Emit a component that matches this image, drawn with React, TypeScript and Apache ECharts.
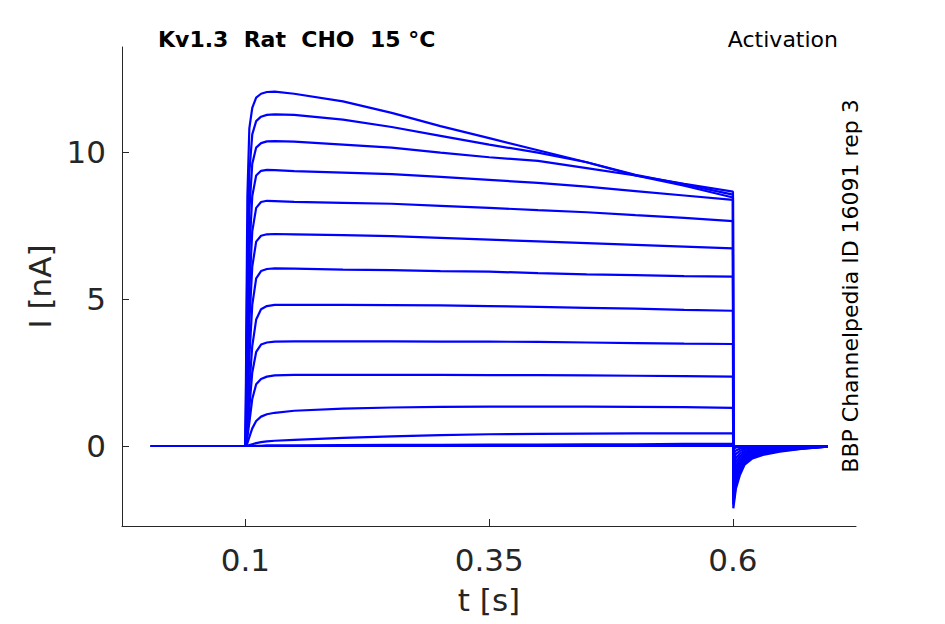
import React, { useEffect, useRef } from "react";
import * as echarts from "echarts";

// time points (s) shared by all sweeps
const T = [0.003, 0.1, 0.1008, 0.102, 0.104, 0.107, 0.111, 0.116, 0.122, 0.13, 0.15, 0.2, 0.25, 0.3, 0.35, 0.4, 0.45, 0.5, 0.55, 0.6, 0.6004, 0.603, 0.607, 0.612, 0.62, 0.632, 0.648, 0.67, 0.697];

// current (nA) for each sweep
const sweep1 = [0, 0, 3.5, 8.5, 10.8, 11.5, 11.85, 11.98, 12.04, 12.05, 11.98, 11.72, 11.33, 10.88, 10.47, 10.06, 9.65, 9.2, 8.85, 8.45, -2.12, -1.45, -1.0, -0.63, -0.42, -0.29, -0.19, -0.1, -0.02];
const sweep2 = [0, 0, 2.5, 6.5, 9.3, 10.6, 11.05, 11.2, 11.26, 11.28, 11.26, 11.1, 10.85, 10.55, 10.25, 9.98, 9.65, 9.22, 8.9, 8.55, -1.98, -1.33, -0.9, -0.57, -0.38, -0.26, -0.17, -0.09, -0.02];
const sweep3 = [0, 0, 1.8, 5.0, 8.0, 9.6, 10.15, 10.3, 10.36, 10.37, 10.35, 10.25, 10.15, 9.98, 9.82, 9.7, 9.45, 9.2, 8.92, 8.65, -1.85, -1.22, -0.82, -0.52, -0.34, -0.23, -0.15, -0.08, -0.02];
const sweep4 = [0, 0, 1.2, 3.8, 6.6, 8.5, 9.2, 9.36, 9.39, 9.38, 9.35, 9.3, 9.25, 9.15, 9.05, 8.95, 8.82, 8.67, 8.52, 8.37, -1.7, -1.1, -0.74, -0.46, -0.3, -0.21, -0.13, -0.07, -0.01];
const sweep5 = [0, 0, 0.8, 2.8, 5.3, 7.3, 8.1, 8.3, 8.34, 8.33, 8.3, 8.27, 8.24, 8.17, 8.1, 8.02, 7.95, 7.85, 7.76, 7.65, -1.52, -0.97, -0.64, -0.4, -0.26, -0.18, -0.11, -0.06, -0.01];
const sweep6 = [0, 0, 0.5, 2.0, 4.2, 6.1, 6.95, 7.15, 7.2, 7.21, 7.2, 7.17, 7.14, 7.08, 7.02, 6.96, 6.9, 6.84, 6.78, 6.72, -1.33, -0.83, -0.54, -0.34, -0.22, -0.15, -0.1, -0.05, -0.01];
const sweep7 = [0, 0, 0.3, 1.3, 3.0, 4.8, 5.7, 5.95, 6.02, 6.04, 6.03, 6.0, 5.98, 5.95, 5.93, 5.88, 5.84, 5.81, 5.78, 5.76, -1.13, -0.69, -0.45, -0.28, -0.18, -0.12, -0.08, -0.04, -0.01];
const sweep8 = [0, 0, 0.2, 0.8, 2.0, 3.4, 4.3, 4.65, 4.76, 4.8, 4.8, 4.8, 4.79, 4.78, 4.76, 4.73, 4.7, 4.67, 4.63, 4.6, -0.92, -0.55, -0.35, -0.22, -0.14, -0.1, -0.06, -0.03, -0.01];
const sweep9 = [0, 0, 0.1, 0.5, 1.3, 2.5, 3.2, 3.45, 3.52, 3.55, 3.56, 3.56, 3.56, 3.55, 3.55, 3.54, 3.52, 3.5, 3.48, 3.47, -0.7, -0.41, -0.26, -0.16, -0.1, -0.07, -0.05, -0.02, 0];
const sweep10 = [0, 0, 0.05, 0.3, 0.8, 1.6, 2.1, 2.28, 2.36, 2.4, 2.42, 2.42, 2.42, 2.42, 2.41, 2.41, 2.4, 2.39, 2.38, 2.36, -0.48, -0.27, -0.17, -0.1, -0.07, -0.05, -0.03, -0.02, 0];
const sweep11 = [0, 0, 0.02, 0.1, 0.3, 0.6, 0.85, 1.0, 1.08, 1.13, 1.2, 1.27, 1.31, 1.33, 1.34, 1.34, 1.34, 1.33, 1.32, 1.3, -0.27, -0.15, -0.09, -0.06, -0.04, -0.03, -0.02, -0.01, 0];
const sweep12 = [0, 0, 0, 0.01, 0.03, 0.06, 0.1, 0.13, 0.16, 0.18, 0.21, 0.28, 0.33, 0.37, 0.4, 0.41, 0.42, 0.43, 0.43, 0.43, -0.1, -0.05, -0.03, -0.02, -0.01, -0.01, 0, 0, 0];
const sweep13 = [0, 0, 0, 0, 0, 0.01, 0.01, 0.01, 0.02, 0.02, 0.02, 0.03, 0.04, 0.04, 0.05, 0.05, 0.06, 0.06, 0.07, 0.07, -0.02, -0.01, 0, 0, 0, 0, 0, 0, 0];
const sweep14 = [0, 0, 0, 0, 0, 0, 0, 0, 0, 0, 0, 0, 0, 0, 0, 0, 0, 0, 0, 0, 0, 0, 0, 0, 0, 0, 0, 0, 0];

const SWEEPS = [sweep1, sweep2, sweep3, sweep4, sweep5, sweep6, sweep7, sweep8, sweep9, sweep10, sweep11, sweep12, sweep13, sweep14];

const X_TICKS = [0.1, 0.35, 0.6];
const Y_TICKS = [0, 5, 10];
const X_MIN = -0.0266;
const X_MAX = 0.7262;
const Y_MIN = -2.72;
const Y_MAX = 13.57;

const TITLE = "Kv1.3  Rat  CHO  15 °C";
const SUBTITLE = "Activation";
const SIDE_NOTE = "BBP Channelpedia ID 16091 rep 3";

const FONT = "DejaVu Sans";
const INK = "#262626";

export default function App() {
  const ref = useRef<HTMLDivElement>(null);

  useEffect(() => {
    if (!ref.current) return;
    const chart = echarts.init(ref.current, null, { renderer: "svg" });
    const series = SWEEPS.map((vals, k) => ({
      type: "line",
      name: "sweep" + (k + 1),
      data: T.map((t, i) => [t, vals[i]]),
      showSymbol: false,
      symbol: "none",
      lineStyle: { color: "#0000ff", width: 2.2 },
      itemStyle: { color: "#0000ff" },
      silent: true,
    }));

    chart.setOption({
      animation: false,
      backgroundColor: "#ffffff",
      textStyle: { fontFamily: FONT },
      grid: { left: 122, right: 89, top: 47, bottom: 98 },
      xAxis: {
        type: "value",
        min: X_MIN,
        max: X_MAX,
        name: "t [s]",
        nameLocation: "middle",
        nameGap: 58,
        nameTextStyle: { fontSize: 31, color: INK, fontFamily: FONT },
        axisLine: { show: true, onZero: false, lineStyle: { color: INK, width: 1 } },
        axisTick: { show: true, inside: true, length: 7, customValues: X_TICKS, lineStyle: { color: INK } },
        axisLabel: { show: true, customValues: X_TICKS, fontSize: 31, color: INK, margin: 18, fontFamily: FONT },
        splitLine: { show: false },
      },
      yAxis: {
        type: "value",
        min: Y_MIN,
        max: Y_MAX,
        name: "I [nA]",
        nameLocation: "middle",
        nameGap: 64,
        nameTextStyle: { fontSize: 31, color: INK, fontFamily: FONT },
        axisLine: { show: true, onZero: false, lineStyle: { color: INK, width: 1 } },
        axisTick: { show: true, inside: true, length: 7, customValues: Y_TICKS, lineStyle: { color: INK } },
        axisLabel: { show: true, customValues: Y_TICKS, fontSize: 31, color: INK, margin: 16, fontFamily: FONT },
        splitLine: { show: false },
      },
      graphic: [
        {
          type: "text",
          left: 158,
          top: 28,
          style: { text: TITLE, fontSize: 22, fontWeight: "bold", fill: "#000000", fontFamily: FONT },
        },
        {
          type: "text",
          x: 838,
          y: 39,
          style: { text: SUBTITLE, fontSize: 22, fill: "#000000", fontFamily: FONT, align: "right", verticalAlign: "middle" },
        },
        {
          type: "text",
          x: 850,
          y: 286,
          rotation: Math.PI / 2,
          style: { text: SIDE_NOTE, fontSize: 22, fill: "#000000", fontFamily: FONT, align: "center", verticalAlign: "middle" },
        },
      ],
      series,
    });
    return () => chart.dispose();
  }, []);

  return <div ref={ref} style={{ position: "absolute", left: 0, top: 0, width: 945, height: 624 }} />;
}
